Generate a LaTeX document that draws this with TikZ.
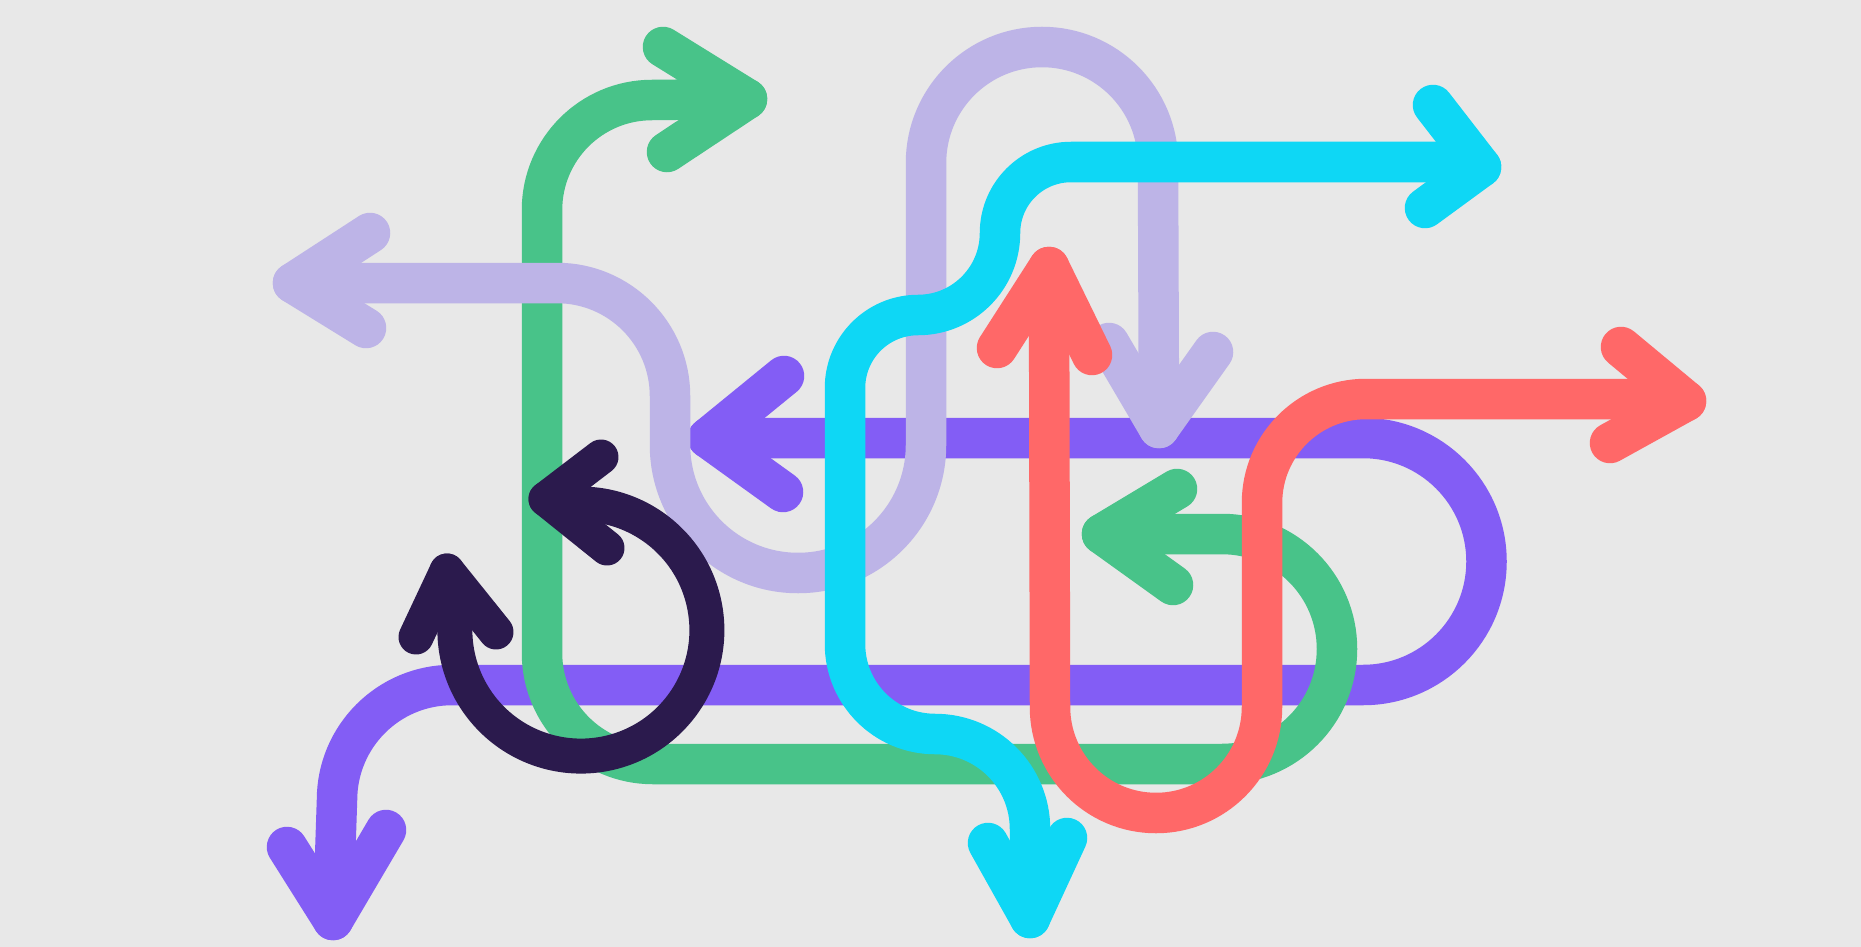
\documentclass[tikz,border=0pt]{standalone}
\definecolor{bgc}{HTML}{E8E8E8}
\definecolor{grn}{HTML}{48C389}
\definecolor{lav}{HTML}{BDB4E7}
\definecolor{pur}{HTML}{835DF5}
\definecolor{cor}{HTML}{FF6868}
\definecolor{cya}{HTML}{0ED7F5}
\definecolor{drk}{HTML}{2B1A4D}
\tikzset{
  band/.style={line width=40.5pt, line cap=round, line join=round},
  gline/.style={band, draw=grn},
  lline/.style={band, draw=lav},
  pline/.style={band, draw=pur},
  rline/.style={band, draw=cor},
  cline/.style={band, draw=cya},
  dline/.style={line width=35pt, line cap=round, line join=round, draw=drk}
}
\begin{document}
\begin{tikzpicture}[x=1pt,y=1pt,yscale=-1]
\fill[bgc] (0,0) rectangle (1861,947);
\useasboundingbox (0,0) rectangle (1861,947);
% purple
\coordinate (pA) at (708,438);
\coordinate (pB) at (333,920);
\draw[pline] (pA) -- (1363,438) arc[start angle=-90, end angle=90, radius=123.5]
  -- (452,685) arc[start angle=-90, end angle=-180, radius=115] -- (pB);
\draw[pline] (784,376) -- (pA) -- (783,492);
\draw[pline] (287,847) -- (pB) -- (386,830);
% green
\coordinate (gA) at (747,99);
\coordinate (gB) at (1102,534);
\draw[gline] (gA) -- (652,100) arc[start angle=-90, end angle=-180, radius=110]
  -- (542,653) arc[start angle=180, end angle=90, radius=111]
  -- (1222,764) arc[start angle=90, end angle=-90, radius=115] -- (gB);
\draw[gline] (663,47) -- (gA) -- (667,152);
\draw[gline] (1177,489) -- (gB) -- (1173,585);
% lavender
\coordinate (lA) at (293,283);
\coordinate (lB) at (1159,428);
\draw[lline] (lA) -- (557,283) arc[start angle=-90, end angle=0, radius=113]
  -- (670,445) arc[start angle=180, end angle=0, radius=128]
  -- (926,163) arc[start angle=180, end angle=360, radius=116] -- (lB);
\draw[lline] (370,233) -- (lA) -- (366,328);
\draw[lline] (1109,343) -- (lB) -- (1213,352);
% red
\coordinate (rA) at (1049,267);
\coordinate (rB) at (1686,401);
\draw[rline] (rA) -- (1050,707) arc[start angle=180, end angle=0, radius=106]
  -- (1262,503) arc[start angle=180, end angle=270, radius=104] -- (1640,399) -- (rB);
\draw[rline] (997,348) -- (rA) -- (1092,355);
\draw[rline] (1621,347) -- (rB) -- (1610,443);
% cyan
\coordinate (cA) at (1481,167);
\coordinate (cB) at (1030,918);
\draw[cline] (cA) -- (1440,162) -- (1071,162) arc[start angle=-90, end angle=-180, radius=71]
  arc[start angle=0, end angle=90, radius=82]
  arc[start angle=-90, end angle=-180, radius=73]
  -- (845,644) arc[start angle=180, end angle=90, radius=90]
  arc[start angle=-90, end angle=0, radius=95] -- (cB);
\draw[cline] (1433,105) -- (cA) -- (1425,208);
\draw[cline] (988,843) -- (cB) -- (1067,838);
% dark
\coordinate (dA) at (546,499);
\coordinate (dB) at (447,571);
\draw[dline] (dA) -- (559,506) arc[start angle=-100, end angle=186, radius=126] -- (dB);
\draw[dline] (601,457) -- (dA) -- (607,548);
\draw[dline] (416,637) -- (dB) -- (496,632);
\end{tikzpicture}
\end{document}
